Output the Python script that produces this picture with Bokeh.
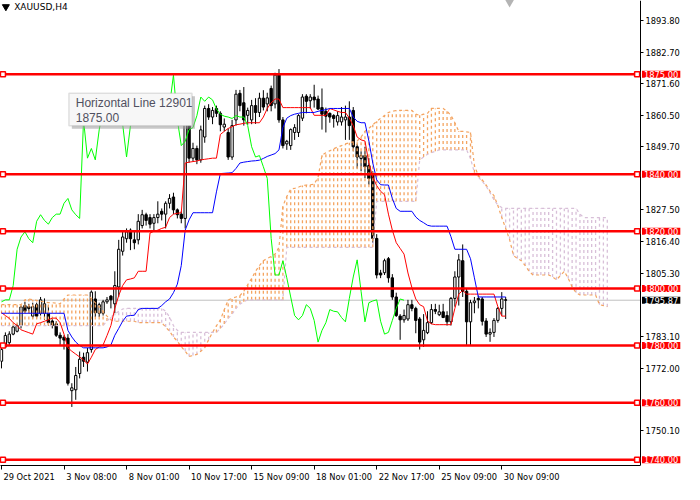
import numpy as np
from bokeh.plotting import figure
from bokeh.models import (Range1d, FixedTicker, NumeralTickFormatter, Label, BoxAnnotation)
from bokeh.embed import file_html
from bokeh.resources import INLINE

# ---------------- data (XAUUSD, H4) ----------------
symbol_title = "XAUUSD,H4"
tick_idx = [0, 16, 32, 48, 64, 80, 96, 112, 128]
tick_labels = ["29 Oct 2021", "3 Nov 08:00", "8 Nov 01:00", "10 Nov 17:00", "15 Nov 09:00",
               "18 Nov 01:00", "22 Nov 17:00", "25 Nov 09:00", "30 Nov 09:00"]
# price-scale labels that are not hidden behind the object/bid labels
y_ticks = [1750.10, 1772.00, 1783.10, 1805.30, 1816.40,
           1827.50, 1849.70, 1860.50, 1871.60, 1882.70, 1893.80]

opens = [1774.5, 1779.5, 1781.0, 1784.0, 1785.0, 1787.0, 1794.0, 1793.6, 1790.3, 1794.3,
         1791.3, 1791.3, 1791.3, 1788.6, 1787.6, 1783.6, 1782.9, 1782.6, 1764.2, 1764.5,
         1770.2, 1775.9, 1774.2, 1778.6, 1796.3, 1791.3, 1791.3, 1795.3, 1797.3, 1794.6,
         1800.5, 1813.0, 1817.4, 1820.4, 1817.0, 1817.0, 1822.0, 1825.8, 1824.8, 1822.8,
         1824.8, 1827.0, 1826.0, 1829.8, 1832.0, 1827.5, 1826.0, 1824.5, 1858.0, 1845.6,
         1849.0, 1845.0, 1853.0, 1863.0, 1860.0, 1863.0, 1861.3, 1856.5, 1854.6, 1846.0,
         1859.0, 1868.3, 1865.0, 1860.6, 1859.0, 1864.0, 1861.6, 1866.6, 1864.6, 1870.0,
         1864.6, 1874.7, 1859.0, 1850.6, 1850.0, 1854.6, 1854.6, 1859.6, 1867.3, 1865.7,
         1867.0, 1866.3, 1863.3, 1862.0, 1861.3, 1860.5, 1858.3, 1858.3, 1859.0, 1860.0,
         1862.3, 1849.6, 1845.5, 1846.5, 1843.0, 1839.8, 1817.5, 1805.4, 1805.5, 1810.4,
         1803.7, 1797.0, 1790.3, 1789.0, 1789.3, 1794.3, 1793.0, 1789.3, 1782.0, 1784.5,
         1788.0, 1792.6, 1790.8, 1791.8, 1790.5, 1788.3, 1796.5, 1804.0, 1809.7, 1799.0,
         1788.3, 1795.0, 1796.5, 1796.3, 1788.6, 1784.0, 1784.6, 1788.8, 1793.0, 1796.0]
highs = [1780.2, 1784.6, 1785.0, 1787.0, 1787.6, 1794.0, 1795.3, 1794.6, 1795.0, 1795.0,
         1797.0, 1796.5, 1794.0, 1789.5, 1788.5, 1784.6, 1783.6, 1784.0, 1766.8, 1772.5,
         1777.9, 1777.5, 1779.2, 1799.3, 1799.0, 1795.0, 1796.0, 1797.0, 1797.7, 1806.0,
         1817.0, 1820.0, 1821.0, 1821.0, 1820.4, 1826.0, 1827.5, 1826.5, 1826.0, 1826.0,
         1830.5, 1828.0, 1830.5, 1833.0, 1833.5, 1828.0, 1827.0, 1868.0, 1862.0, 1851.0,
         1850.0, 1857.0, 1864.0, 1864.5, 1863.5, 1864.0, 1862.0, 1859.5, 1856.0, 1859.0,
         1869.5, 1869.5, 1870.5, 1863.3, 1866.0, 1866.6, 1868.5, 1869.4, 1868.5, 1871.0,
         1875.5, 1876.8, 1860.0, 1852.0, 1856.0, 1857.5, 1861.0, 1868.0, 1868.0, 1868.0,
         1871.3, 1867.5, 1870.0, 1863.3, 1861.6, 1861.0, 1862.0, 1863.5, 1864.0, 1865.5,
         1863.5, 1850.6, 1848.0, 1849.6, 1845.6, 1841.0, 1819.0, 1806.5, 1810.4, 1811.0,
         1805.0, 1798.5, 1791.0, 1792.6, 1796.0, 1796.0, 1793.6, 1790.0, 1791.0, 1792.0,
         1794.5, 1794.6, 1794.3, 1794.6, 1792.0, 1797.0, 1806.0, 1812.0, 1815.4, 1800.0,
         1796.0, 1797.0, 1797.5, 1797.0, 1789.6, 1786.0, 1789.6, 1793.5, 1798.7, 1797.0]
lows = [1772.0, 1779.2, 1780.2, 1783.6, 1784.6, 1786.0, 1791.3, 1791.3, 1789.5, 1789.5,
        1790.5, 1789.0, 1787.0, 1786.0, 1783.0, 1780.2, 1778.6, 1766.0, 1758.5, 1761.0,
        1768.5, 1772.5, 1770.9, 1777.5, 1790.0, 1790.0, 1790.5, 1794.6, 1793.0, 1791.3,
        1797.0, 1811.5, 1816.0, 1813.4, 1813.7, 1815.4, 1821.0, 1822.0, 1821.0, 1820.4,
        1822.8, 1823.8, 1821.0, 1828.0, 1826.0, 1824.5, 1822.8, 1821.0, 1844.0, 1844.5,
        1843.5, 1844.0, 1851.0, 1859.0, 1857.5, 1860.0, 1855.0, 1855.0, 1845.0, 1845.0,
        1857.0, 1862.0, 1857.0, 1857.3, 1857.5, 1857.6, 1860.0, 1862.3, 1862.0, 1862.0,
        1863.0, 1858.0, 1849.0, 1848.5, 1848.5, 1852.0, 1853.0, 1858.6, 1861.3, 1863.0,
        1863.3, 1862.5, 1855.6, 1854.6, 1858.0, 1856.3, 1857.0, 1857.0, 1852.0, 1852.0,
        1848.0, 1842.0, 1841.0, 1838.6, 1836.3, 1816.0, 1803.5, 1803.6, 1804.7, 1802.0,
        1796.0, 1790.0, 1782.0, 1788.0, 1788.6, 1792.0, 1784.3, 1778.6, 1779.5, 1784.0,
        1787.5, 1791.0, 1790.3, 1789.6, 1787.0, 1787.0, 1793.6, 1794.0, 1797.0, 1780.2,
        1780.2, 1791.3, 1793.0, 1787.0, 1783.0, 1781.3, 1783.0, 1788.0, 1790.3, 1789.3]
closes = [1778.6, 1783.5, 1784.0, 1786.5, 1787.0, 1793.5, 1792.0, 1793.0, 1793.6, 1790.3,
          1796.0, 1794.6, 1788.0, 1787.0, 1783.6, 1782.6, 1781.9, 1766.8, 1765.2, 1769.5,
          1775.2, 1774.5, 1777.5, 1798.7, 1791.5, 1794.3, 1795.3, 1796.0, 1796.0, 1801.0,
          1813.7, 1818.0, 1819.8, 1817.4, 1816.0, 1823.5, 1825.8, 1823.8, 1822.5, 1824.8,
          1826.0, 1826.0, 1829.8, 1831.5, 1827.5, 1825.8, 1824.5, 1859.0, 1845.6, 1849.0,
          1845.0, 1855.5, 1863.0, 1860.0, 1862.3, 1861.3, 1857.3, 1857.5, 1846.0, 1857.0,
          1868.0, 1864.0, 1859.0, 1862.3, 1864.0, 1861.6, 1866.6, 1863.5, 1866.7, 1864.0,
          1874.7, 1859.0, 1850.0, 1851.5, 1855.6, 1856.3, 1860.5, 1867.0, 1865.5, 1867.0,
          1866.0, 1862.8, 1861.0, 1860.3, 1860.0, 1859.5, 1860.5, 1860.0, 1860.0, 1857.0,
          1849.6, 1846.0, 1846.5, 1842.6, 1838.5, 1817.5, 1804.7, 1804.7, 1809.7, 1803.7,
          1797.0, 1790.5, 1789.0, 1790.5, 1794.3, 1793.0, 1788.8, 1781.2, 1785.3, 1788.0,
          1792.6, 1792.0, 1791.8, 1789.8, 1788.3, 1796.5, 1804.0, 1810.0, 1799.0, 1788.3,
          1795.0, 1795.6, 1796.0, 1788.5, 1784.0, 1784.6, 1788.8, 1793.0, 1796.3, 1795.87]

tenkan = [1791.5, 1790.5, 1789.5, 1788.0, 1787.0, 1785.5, 1785.0, 1784.5, 1784.0, 1787.6,
          1788.0, 1788.5, 1789.0, 1789.6, 1789.6, 1788.0, 1784.0, 1779.2, 1778.0, 1777.0,
          1776.0, 1775.0, 1773.5, 1775.9, 1778.6, 1779.5, 1780.2, 1783.5, 1787.0, 1793.0,
          1797.5, 1801.0, 1803.0, 1803.3, 1803.7, 1806.0, 1806.0, 1806.0, 1819.4, 1820.0,
          1820.4, 1821.0, 1821.4, 1824.8, 1826.0, 1826.3, 1826.5, 1843.9, 1844.2, 1844.4,
          1844.6, 1845.0, 1845.2, 1845.4, 1845.6, 1845.6, 1853.9, 1855.0, 1856.0, 1856.6,
          1857.3, 1857.5, 1857.8, 1858.0, 1858.0, 1858.0, 1858.0, 1860.0, 1863.0, 1865.0,
          1866.3, 1866.3, 1863.3, 1863.3, 1863.3, 1863.3, 1863.3, 1863.3, 1863.3, 1863.3,
          1860.6, 1860.6, 1860.6, 1860.6, 1863.0, 1862.5, 1862.0, 1861.6, 1861.6, 1859.6,
          1857.0, 1853.0, 1852.0, 1851.6, 1843.9, 1839.0, 1836.0, 1834.0, 1832.8, 1826.0,
          1820.4, 1816.0, 1814.0, 1812.0, 1805.4, 1800.3, 1796.3, 1794.3, 1793.6, 1788.6,
          1787.6, 1787.3, 1787.3, 1787.3, 1787.3, 1787.3, 1793.0, 1798.0, 1799.3, 1798.0,
          1798.0, 1798.0, 1798.0, 1798.0, 1798.0, 1798.0, 1798.0, 1793.6, 1790.3, 1790.3]
kijun = [1791.3, 1791.3, 1791.3, 1791.3, 1791.3, 1791.3, 1791.3, 1791.3, 1791.3, 1791.3,
         1791.3, 1791.3, 1791.3, 1791.3, 1791.3, 1791.3, 1791.3, 1785.3, 1783.0, 1781.2,
         1780.0, 1779.2, 1779.2, 1779.2, 1779.2, 1779.2, 1779.2, 1779.5, 1780.2, 1783.6,
         1786.0, 1788.5, 1790.3, 1790.5, 1790.6, 1792.6, 1793.0, 1793.0, 1793.0, 1793.0,
         1793.0, 1794.0, 1795.3, 1796.3, 1798.5, 1801.5, 1808.0, 1820.4, 1824.0, 1826.5,
         1826.5, 1826.5, 1826.5, 1826.5, 1826.5, 1833.8, 1840.2, 1840.3, 1840.4, 1840.5,
         1842.0, 1843.9, 1844.2, 1844.4, 1844.6, 1844.7, 1844.9, 1845.5, 1846.2, 1846.7,
         1847.2, 1848.5, 1856.3, 1859.6, 1860.5, 1861.0, 1861.3, 1861.6, 1861.6, 1861.6,
         1861.6, 1862.0, 1862.3, 1862.6, 1863.0, 1863.0, 1863.0, 1863.0, 1863.0, 1863.0,
         1860.0, 1858.5, 1858.0, 1858.0, 1851.6, 1843.9, 1838.0, 1836.3, 1836.2, 1836.2,
         1831.5, 1828.0, 1827.0, 1827.0, 1827.0, 1827.0, 1825.0, 1823.8, 1823.0, 1822.1,
         1821.8, 1821.8, 1821.8, 1821.8, 1821.8, 1818.1, 1813.7, 1813.7, 1813.7, 1813.7,
         1810.4, 1803.7, 1797.0, 1797.0, 1797.0, 1797.0, 1797.0, 1797.0, 1797.0, 1797.0]
# Senkou spans, plotted 26 bars ahead (x = 0 .. 155)
senkou_a = [1794.3, 1794.3, 1794.3, 1794.3, 1794.3, 1794.3, 1796.0, 1796.3, 1796.0, 1795.8,
            1795.5, 1795.3, 1795.0, 1795.0, 1794.8, 1794.6, 1796.3, 1797.7, 1797.7, 1797.7,
            1797.7, 1797.7, 1797.7, 1796.5, 1795.0, 1793.6, 1792.0, 1790.3, 1789.0, 1788.5,
            1788.5, 1788.5, 1788.5, 1788.5, 1788.5, 1788.0, 1788.0, 1788.0, 1788.0, 1788.0,
            1788.0, 1788.0, 1786.5, 1785.0, 1783.0, 1781.5, 1779.6, 1778.0, 1776.2, 1776.5,
            1776.9, 1778.0, 1779.2, 1782.0, 1784.6, 1786.9, 1789.0, 1792.5, 1796.0, 1796.5,
            1797.0, 1797.5, 1799.0, 1801.3, 1803.5, 1806.0, 1808.0, 1809.7, 1810.5, 1811.2,
            1812.0, 1814.4, 1828.8, 1832.2, 1834.8, 1835.0, 1835.5, 1836.0, 1836.2, 1836.3,
            1836.5, 1838.9, 1846.6, 1847.5, 1848.2, 1848.9, 1849.5, 1850.0, 1850.6, 1851.0,
            1851.3, 1851.6, 1853.0, 1855.0, 1856.0, 1857.3, 1858.5, 1859.5, 1860.5, 1861.6,
            1862.0, 1862.3, 1862.3, 1862.3, 1862.3, 1862.3, 1861.0, 1860.6, 1861.0, 1861.3,
            1863.0, 1863.0, 1863.0, 1863.0, 1862.0, 1860.6, 1858.0, 1855.0, 1855.0, 1854.8,
            1854.6, 1843.0, 1839.5, 1838.0, 1836.2, 1834.0, 1832.5, 1829.0, 1824.8, 1821.0,
            1817.1, 1811.5, 1810.5, 1809.7, 1808.0, 1806.0, 1804.7, 1804.7, 1804.7, 1804.7,
            1804.7, 1804.0, 1803.0, 1804.5, 1806.0, 1803.5, 1800.5, 1798.5, 1797.7, 1797.7,
            1797.7, 1797.7, 1797.7, 1794.3, 1794.0, 1793.6]
senkou_b = [1787.0, 1787.0, 1787.0, 1787.0, 1787.0, 1787.0, 1787.0, 1787.0, 1787.0, 1787.0,
            1787.0, 1787.0, 1787.0, 1787.0, 1787.0, 1787.0, 1787.0, 1787.0, 1787.0, 1787.0,
            1787.0, 1787.0, 1787.0, 1787.0, 1787.0, 1787.0, 1787.0, 1788.6, 1790.0, 1791.0,
            1792.0, 1792.8, 1793.0, 1793.0, 1793.0, 1793.0, 1793.0, 1793.0, 1793.0, 1793.0,
            1793.0, 1793.0, 1792.0, 1790.0, 1787.0, 1785.3, 1784.6, 1784.6, 1784.6, 1784.6,
            1784.6, 1784.6, 1784.6, 1784.6, 1784.6, 1784.6, 1786.0, 1787.5, 1789.5, 1791.0,
            1793.0, 1794.5, 1795.3, 1796.0, 1796.0, 1796.0, 1796.0, 1796.0, 1796.0, 1796.0,
            1796.0, 1796.0, 1796.0, 1814.4, 1814.4, 1814.4, 1814.4, 1814.4, 1814.4, 1814.4,
            1814.4, 1814.4, 1814.4, 1814.4, 1814.4, 1814.4, 1814.4, 1814.4, 1814.4, 1814.4,
            1814.4, 1814.4, 1814.4, 1814.4, 1814.4, 1814.4, 1830.5, 1830.5, 1830.5, 1830.5,
            1830.5, 1830.5, 1830.5, 1830.5, 1830.5, 1830.5, 1830.5, 1845.0, 1846.0, 1847.0,
            1847.5, 1848.0, 1848.5, 1848.5, 1848.5, 1848.5, 1848.5, 1848.5, 1848.5, 1848.5,
            1845.5, 1840.5, 1839.0, 1837.5, 1835.8, 1833.5, 1831.0, 1829.2, 1828.3, 1828.0,
            1828.0, 1828.0, 1828.0, 1828.0, 1828.0, 1828.0, 1828.0, 1828.0, 1828.0, 1828.0,
            1828.0, 1828.0, 1828.0, 1828.0, 1828.0, 1828.0, 1828.0, 1828.0, 1826.0, 1824.8,
            1824.8, 1824.8, 1824.8, 1824.8, 1824.8, 1824.8]
chikou_shift = 26
h_levels = [1875.0, 1840.0, 1820.0, 1800.0, 1780.0, 1760.0, 1740.0]
bid_price = 1795.87
tooltip_title = "Horizontal Line 12901"
tooltip_value = "1875.00"

# ---------------- geometry / style ----------------
W, H = 684, 484
BB = 14
REF_W, REF_FH, REF_BAR = 700.0, 486.0, 4.0   # reference window: 4 px per bar
AXIS_PX, LINE_END_PX, LABEL_PX = 655.0, 651.5, 656.5
X0 = -0.25
X1 = X0 + REF_W / REF_BAR
Y0, Y1 = 1738.0, 1900.8
PPB = W / (X1 - X0)
AX_FONT = "DejaVu Sans"
AX_SIZE = "8.3px"


def xr(px):
    return X0 + px / REF_BAR


def yr(py):
    return Y1 - py * (Y1 - Y0) / REF_FH


p = figure(width=W, height=H, x_range=Range1d(X0, X1), y_range=Range1d(Y0, Y1),
           x_axis_location="below", y_axis_location="right",
           output_backend="svg", toolbar_location=None,
           min_border_left=0, min_border_top=0, min_border_right=0, min_border_bottom=BB,
           background_fill_color="white", border_fill_color="white", outline_line_color=None)
p.xgrid.visible = False
p.ygrid.visible = False

# x axis: labels left-aligned at their tick (MT4 style)
centers = [round(t + (len(s) * 4.65 / 2 + 2) / PPB, 3) for t, s in zip(tick_idx, tick_labels)]
xa = p.xaxis[0]
xa.ticker = FixedTicker(ticks=centers, minor_ticks=tick_idx)
xa.major_label_overrides = {c: s for c, s in zip(centers, tick_labels)}
xa.bounds = (X0, xr(AXIS_PX))
xa.major_tick_out = 0
xa.major_tick_in = 0
xa.minor_tick_out = 4
xa.minor_tick_in = 0
xa.minor_tick_line_color = "black"
xa.axis_line_color = "black"
xa.major_label_standoff = 2
xa.major_label_text_font = AX_FONT
xa.major_label_text_font_size = AX_SIZE
xa.major_label_text_color = "black"

# price scale: axis fixed at the right edge of the chart area
ya = p.yaxis[0]
ya.fixed_location = xr(AXIS_PX)
ya.ticker = FixedTicker(ticks=y_ticks)
ya.formatter = NumeralTickFormatter(format="0.00")
ya.major_tick_out = 3
ya.major_tick_in = 0
ya.minor_tick_out = 0
ya.minor_tick_in = 0
ya.axis_line_color = "black"
ya.major_label_standoff = 2
ya.major_label_text_font = AX_FONT
ya.major_label_text_font_size = AX_SIZE
ya.major_label_text_color = "black"

# bid line behind everything
bid = p.segment(x0=[X0], y0=[bid_price], x1=[xr(AXIS_PX)], y1=[bid_price],
                line_color="#C0C0C0", line_width=1)
bid.level = "underlay"

# candles
O = np.array(opens); Hh = np.array(highs); L = np.array(lows); C = np.array(closes)
idx = np.arange(len(O))
up = C >= O
p.segment(idx, L, idx, Hh, line_color="black", line_width=1)
p.vbar(x=idx[up], width=0.6, bottom=O[up], top=C[up], fill_color="white",
       line_color="black", line_width=1)
p.vbar(x=idx[~up], width=0.6, bottom=C[~up], top=O[~up], fill_color="black",
       line_color="black", line_width=1)

# Ichimoku cloud (dotted histogram)
SA = np.array(senkou_a); SB = np.array(senkou_b)
j = np.arange(len(SA))
ku = SA > SB
kd = SA < SB
p.segment(j[ku], SB[ku], j[ku], SA[ku], line_color="#F4A460", line_dash="3 3", line_width=1.3)
p.segment(j[kd], SA[kd], j[kd], SB[kd], line_color="#D8BFD8", line_dash="3 3", line_width=1.3)
p.line(j, SA, line_color="#F4A460", line_dash="3 3", line_width=1.2)
p.line(j, SB, line_color="#D8BFD8", line_dash="3 3", line_width=1.2)

# Tenkan / Kijun / Chikou
p.line(idx, np.array(tenkan), line_color="#FF0000", line_width=1)
p.line(idx, np.array(kijun), line_color="#0000FF", line_width=1)
p.line(idx[chikou_shift:] - chikou_shift, C[chikou_shift:], line_color="#00FF00", line_width=1)

# horizontal line objects
n = len(h_levels)
p.segment(x0=[X0] * n, y0=h_levels, x1=[xr(LINE_END_PX)] * n, y1=h_levels,
          line_color="#FF0000", line_width=2.5)
anch = p.scatter(x=[xr(2.5)] * n + [xr(LINE_END_PX)] * n,
                 y=h_levels + h_levels, marker="square", size=5,
                 fill_color="white", line_color="#FF0000", line_width=1.5)
anch.level = "overlay"

# price labels on the price scale
for lv in h_levels:
    p.add_layout(Label(x=xr(LABEL_PX), y=lv, text=f"{lv:.2f}", text_align="left",
                       text_baseline="middle", text_color="white", text_font=AX_FONT,
                       text_font_size=AX_SIZE, background_fill_color="#FF0000",
                       padding=(2, 0), level="overlay"))
p.add_layout(Label(x=xr(LABEL_PX), y=bid_price, text=f"{bid_price:.2f}", text_align="left",
                   text_baseline="middle", text_color="white", text_font=AX_FONT,
                   text_font_size=AX_SIZE, background_fill_color="black", padding=(2, 0),
                   level="overlay"))

# title
tri = p.scatter(x=[xr(5.5)], y=[yr(6.5)], marker="inverted_triangle", size=7,
                fill_color="black", line_color="black")
tri.level = "overlay"
p.add_layout(Label(x=xr(14), y=yr(7), text=symbol_title, text_align="left",
                   text_baseline="middle", text_color="black", text_font=AX_FONT,
                   text_font_size="9px"))
shift = p.scatter(x=[xr(521)], y=[yr(0)], marker="inverted_triangle", size=12,
                  fill_color="#B4B4B4", line_color=None)
shift.level = "overlay"

# tooltip of the line object
p.add_layout(BoxAnnotation(left=xr(73), right=xr(199), top=yr(100), bottom=yr(134),
                           fill_color="#9A9A9A", fill_alpha=0.55, line_color=None))
p.add_layout(BoxAnnotation(left=xr(70), right=xr(196), top=yr(97), bottom=yr(131),
                           fill_color="#F7F7F7", fill_alpha=1.0, line_color="#A0A0A0",
                           line_width=1.5))
p.add_layout(Label(x=xr(77), y=yr(107.5), text=tooltip_title, text_align="left",
                   text_baseline="middle", text_color="#505060", text_font="Liberation Sans",
                   text_font_size="12px"))
p.add_layout(Label(x=xr(77), y=yr(122.5), text=tooltip_value, text_align="left",
                   text_baseline="middle", text_color="#505060", text_font="Liberation Sans",
                   text_font_size="12px"))

open("out.html", "w").write(file_html(p, INLINE))
